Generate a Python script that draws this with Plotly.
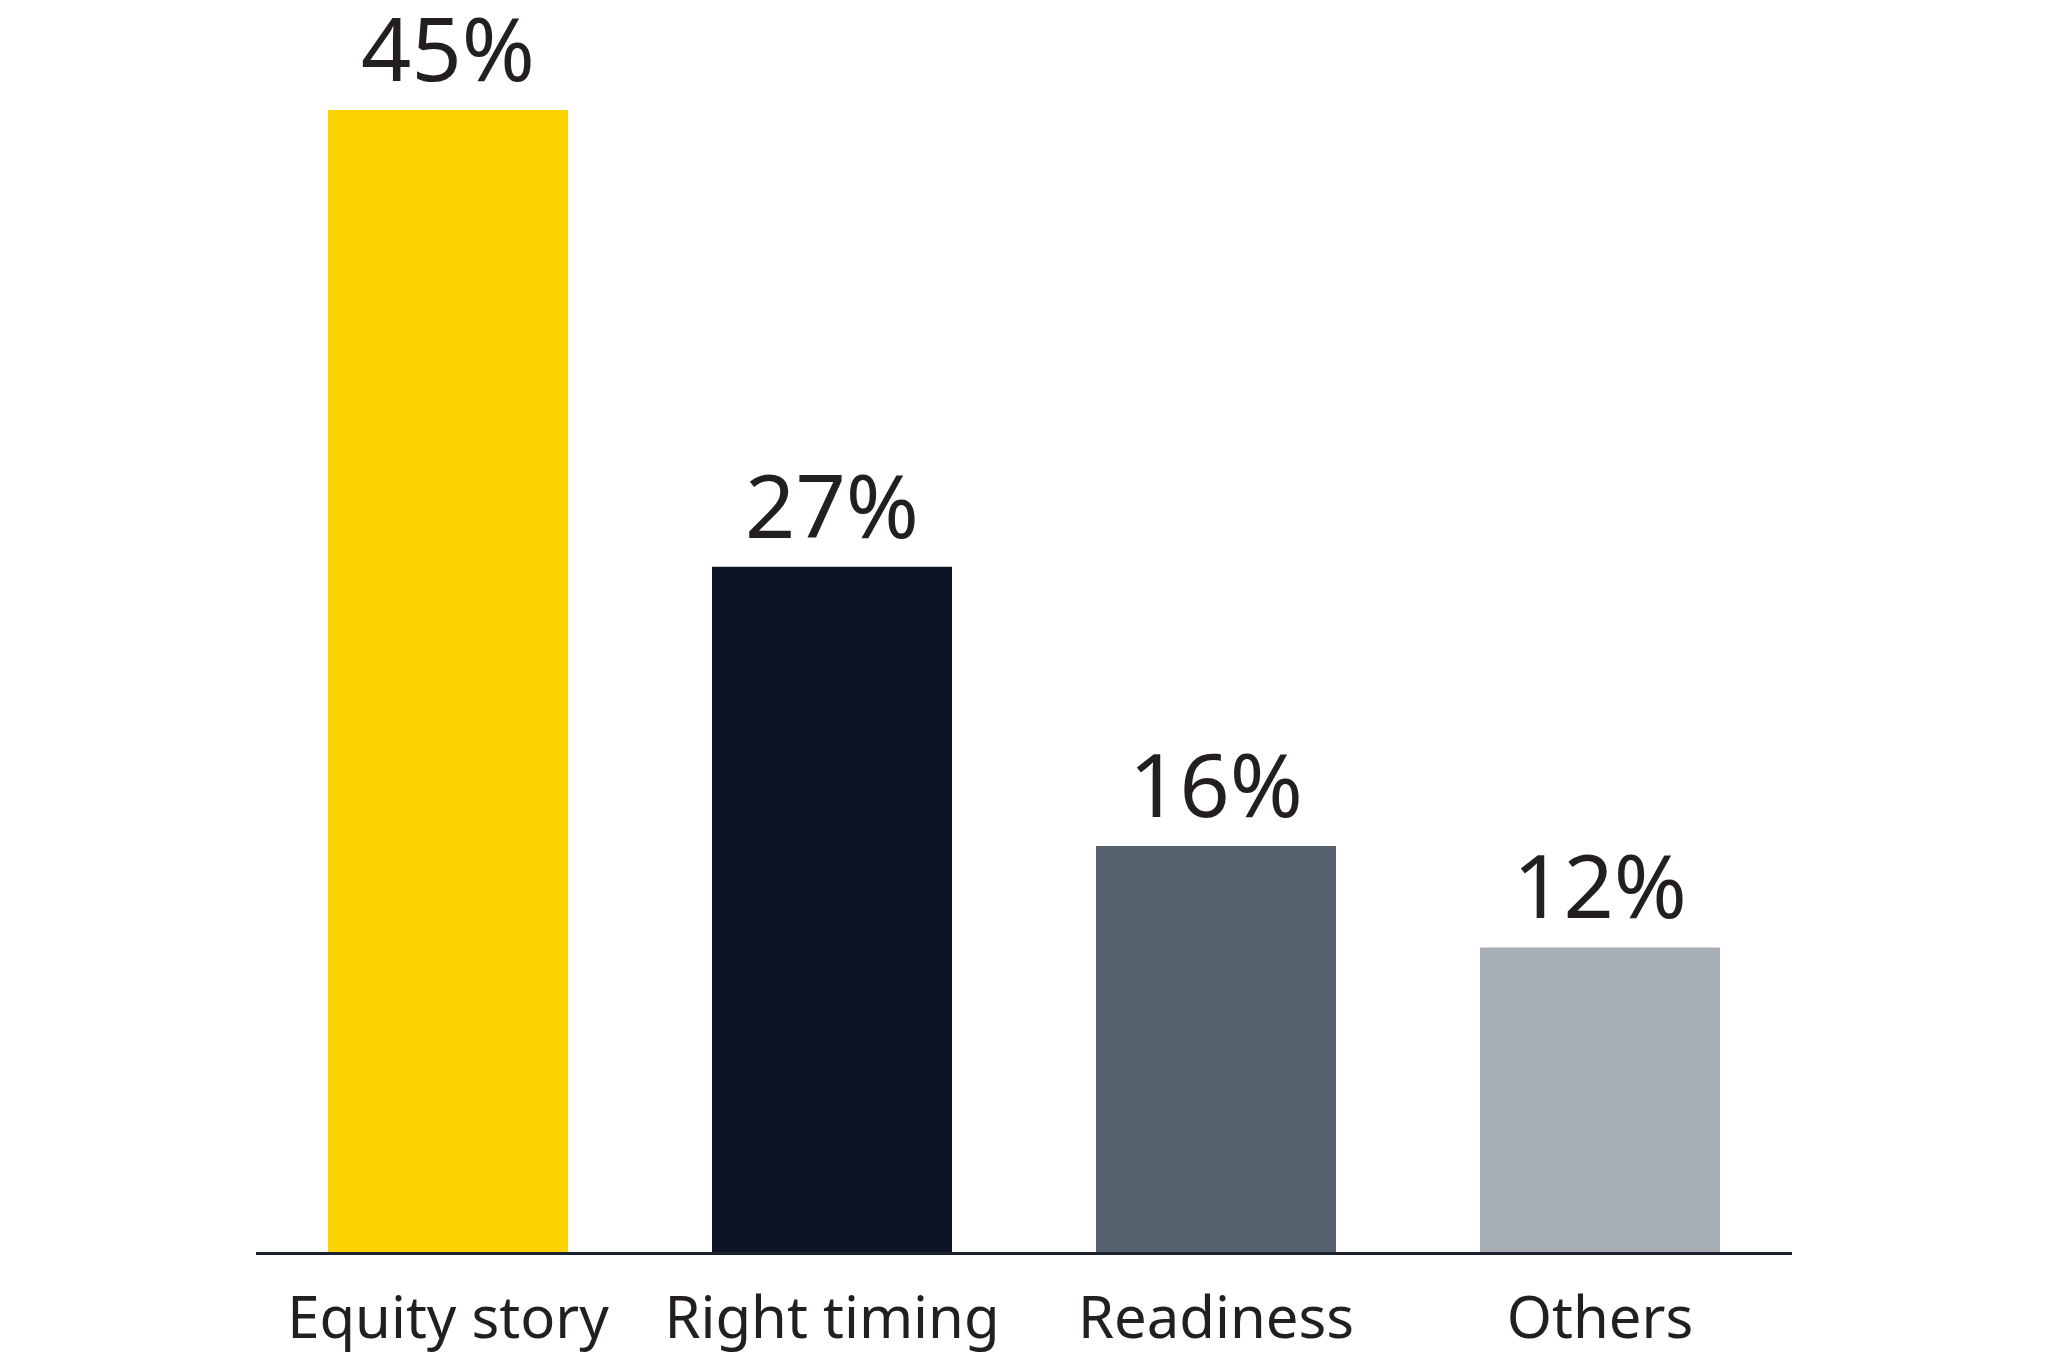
import plotly.graph_objects as go

categories = ["Equity story", "Right timing", "Readiness", "Others"]
values = [45, 27, 16, 12]
labels = ["45%", "27%", "16%", "12%"]
colors = ["#FED400", "#0C1426", "#56616E", "#A8AEB5"]

fig = go.Figure(
    go.Bar(
        x=categories,
        y=values,
        text=labels,
        textposition="outside",
        textfont=dict(family="Noto Sans", size=88, color="#231F20"),
        marker=dict(color=colors, line=dict(width=0)),
        cliponaxis=False,
        hoverinfo="skip",
    )
)

fig.update_layout(
    width=2048,
    height=1365,
    margin=dict(l=248, r=264, t=102, b=121),
    paper_bgcolor="white",
    plot_bgcolor="white",
    bargap=0.375,
    showlegend=False,
)
fig.update_xaxes(
    range=[-0.5, 3.5],
    showline=True,
    linecolor="#1B2033",
    linewidth=3,
    showgrid=False,
    ticks="",
    tickfont=dict(family="Noto Sans", size=58, color="#231F20"),
    ticklabelstandoff=13,
)
fig.update_yaxes(range=[0, 45], visible=False, showgrid=False, zeroline=False)

fig.write_html("out.html")
